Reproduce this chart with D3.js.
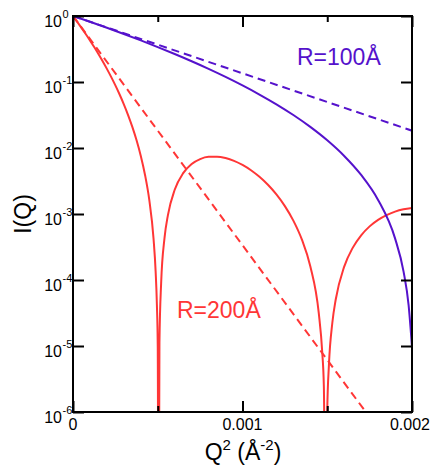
<!DOCTYPE html>
<html>
<head>
<meta charset="utf-8">
<script src="https://cdn.jsdelivr.net/npm/d3@7"></script>
<style>
  body { margin: 0; background: #fff; }
  text { font-family: "Liberation Sans", Arial, sans-serif; }
</style>
</head>
<body>
<svg id="chart" width="433" height="466"></svg>
<script>
// Q^2 values (A^-2) and intensities
var q2R100 = [0, 0.0001, 0.0002, 0.0003, 0.0004, 0.0005, 0.0006, 0.0007, 0.0008, 0.0009,
    0.0010, 0.0011, 0.0012, 0.0013, 0.0014, 0.0015, 0.0016, 0.0017, 0.0018, 0.0019,
    0.00195, 0.00198, 0.002];
var iR100 = [1, 0.8163, 0.6622, 0.5339, 0.4265, 0.3381, 0.2654, 0.2061, 0.1581, 0.1195,
    0.08879, 0.06464, 0.04590, 0.03159, 0.02088, 0.01308, 0.007583, 0.003905, 0.001633, 4.275e-4,
    1.353e-4, 4.17e-5, 9.7e-6];

var q2R200 = [0, 0.000025, 0.00005, 0.000075, 0.0001, 0.000125, 0.00015, 0.000175, 0.0002,
    0.000225, 0.00025, 0.000275, 0.0003, 0.000325, 0.00035, 0.000375, 0.0004, 0.000425,
    0.00045, 0.000475, 0.0004875, 0.000495, 0.0005, 0.000505, 0.00051, 0.00052, 0.00054,
    0.00056, 0.0006, 0.00065, 0.0007, 0.00075, 0.0008, 0.00085, 0.0009, 0.00095, 0.001,
    0.00105, 0.0011, 0.00115, 0.0012, 0.00125, 0.0013, 0.00135, 0.0014, 0.00145, 0.00147,
    0.00148, 0.001492, 0.0015, 0.00151, 0.00153, 0.00155, 0.0016, 0.00165, 0.0017, 0.00175,
    0.0018, 0.00185, 0.0019, 0.00195, 0.002];
var iR200 = [1, 0.8163, 0.6622, 0.5339, 0.4265, 0.3381, 0.2654, 0.2061, 0.1581,
    0.1195, 0.08879, 0.06464, 0.04590, 0.03159, 0.02088, 0.01308, 0.007583, 0.003905,
    0.001633, 4.275e-4, 1.353e-4, 4.17e-5, 9.7e-6, 1e-9, 1.11e-5, 8.96e-5, 4.34e-4,
    9.63e-4, 0.002329, 0.004156, 0.005713, 0.006792, 0.007339, 0.007392, 0.007038, 0.006385, 0.005542,
    0.004607, 0.003663, 0.002773, 0.001982, 0.001318, 7.94e-4, 4.12e-4, 1.62e-4, 3.14e-5, 8.35e-6,
    2.44e-6, 1e-9, 1.05e-6, 5.24e-6, 2.25e-5, 5.06e-5, 1.592e-4, 3.069e-4, 4.756e-4, 6.494e-4,
    8.154e-4, 9.63e-4, 0.001086, 0.001178, 0.001238];

// Guinier approximations (straight lines on this axis)
var q2Guinier = [0, 0.002];
var iGuinier100 = [1, 0.0183];
var iGuinier200 = [1, 1.13e-7];

var yDecades = [1, 1e-1, 1e-2, 1e-3, 1e-4, 1e-5, 1e-6];
var yExponents = ["0", "-1", "-2", "-3", "-4", "-5", "-6"];
var xMajor = [0, 0.001, 0.002];
var xMajorLabels = ["0", "0.001", "0.002"];
var xMinor = [0.0005, 0.0015];

var purple = "#5512cc", red = "#ff3636";
var pLeft = 73, pRight = 412, pTop = 16, pBottom = 412;

var svg = d3.select("#chart");

var x = d3.scaleLinear().domain([0, 0.002]).range([pLeft, pRight]);
var y = d3.scaleLog().domain([1e-6, 1]).range([pBottom, pTop]);

svg.append("clipPath").attr("id", "plot")
    .append("rect")
    .attr("x", pLeft).attr("y", pTop)
    .attr("width", pRight - pLeft).attr("height", pBottom - pTop);

var line = d3.line()
    .curve(d3.curveMonotoneX)
    .x(function (d) { return x(d[0]); })
    .y(function (d) { return y(d[1]); });

function pairs(xs, ys) {
    return xs.map(function (v, i) { return [v, ys[i]]; });
}

var curves = [
    { data: pairs(q2Guinier, iGuinier100), color: purple, dash: "8,5" },
    { data: pairs(q2Guinier, iGuinier200), color: red, dash: "8,5" },
    { data: pairs(q2R200, iR200), color: red, dash: null },
    { data: pairs(q2R100, iR100), color: purple, dash: null }
];

var g = svg.append("g").attr("clip-path", "url(#plot)");
curves.forEach(function (c) {
    g.append("path")
        .datum(c.data)
        .attr("fill", "none")
        .attr("stroke", c.color)
        .attr("stroke-width", 2)
        .attr("stroke-dasharray", c.dash)
        .attr("d", line);
});

// inward ticks on all four sides
function styleAxis(sel) {
    sel.select(".domain").remove();
    sel.selectAll("line").attr("stroke", "#000").attr("stroke-width", 2);
    sel.selectAll("text").remove();
}
svg.append("g").attr("transform", "translate(0," + pBottom + ")")
    .call(d3.axisBottom(x).tickValues(xMajor).tickSize(-11)).call(styleAxis);
svg.append("g").attr("transform", "translate(0," + pBottom + ")")
    .call(d3.axisBottom(x).tickValues(xMinor).tickSize(-6)).call(styleAxis);
svg.append("g").attr("transform", "translate(0," + pTop + ")")
    .call(d3.axisTop(x).tickValues(xMajor).tickSize(-11)).call(styleAxis);
svg.append("g").attr("transform", "translate(0," + pTop + ")")
    .call(d3.axisTop(x).tickValues(xMinor).tickSize(-6)).call(styleAxis);
svg.append("g").attr("transform", "translate(" + pLeft + ",0)")
    .call(d3.axisLeft(y).tickValues(yDecades).tickSize(-11)).call(styleAxis);
svg.append("g").attr("transform", "translate(" + pRight + ",0)")
    .call(d3.axisRight(y).tickValues(yDecades).tickSize(-11)).call(styleAxis);

// frame
svg.append("rect")
    .attr("x", pLeft).attr("y", pTop)
    .attr("width", pRight - pLeft).attr("height", pBottom - pTop)
    .attr("fill", "none").attr("stroke", "#000").attr("stroke-width", 2);

// y tick labels 10^n
yDecades.forEach(function (v, i) {
    svg.append("text")
        .attr("x", 62)
        .attr("y", y(v) + 10.5)
        .attr("text-anchor", "end")
        .attr("font-size", 16)
        .text("10");
    svg.append("text")
        .attr("x", 62.5)
        .attr("y", y(v) + 2)
        .attr("font-size", 11)
        .text(yExponents[i]);
});

// x tick labels
xMajor.forEach(function (v, i) {
    svg.append("text")
        .attr("x", x(v) - (i === 2 ? 2 : 0))
        .attr("y", 430)
        .attr("text-anchor", "middle")
        .attr("font-size", 16)
        .text(xMajorLabels[i]);
});

// axis titles
var xt = svg.append("text")
    .attr("x", 243).attr("y", 460)
    .attr("text-anchor", "middle")
    .attr("font-size", 23);
xt.append("tspan").text("Q");
xt.append("tspan").attr("font-size", 15).attr("dy", -10).text("2");
xt.append("tspan").attr("dy", 10).text(" (Å");
xt.append("tspan").attr("font-size", 15).attr("dy", -10).text("-2");
xt.append("tspan").attr("dy", 10).text(")");

svg.append("text")
    .attr("transform", "translate(31,214) rotate(-90)")
    .attr("text-anchor", "middle")
    .attr("font-size", 23)
    .text("I(Q)");

// curve labels
svg.append("text")
    .attr("x", 297).attr("y", 65)
    .attr("font-size", 23)
    .attr("fill", purple)
    .text("R=100Å");
svg.append("text")
    .attr("x", 177).attr("y", 318)
    .attr("font-size", 23)
    .attr("fill", red)
    .text("R=200Å");
</script>
</body>
</html>
